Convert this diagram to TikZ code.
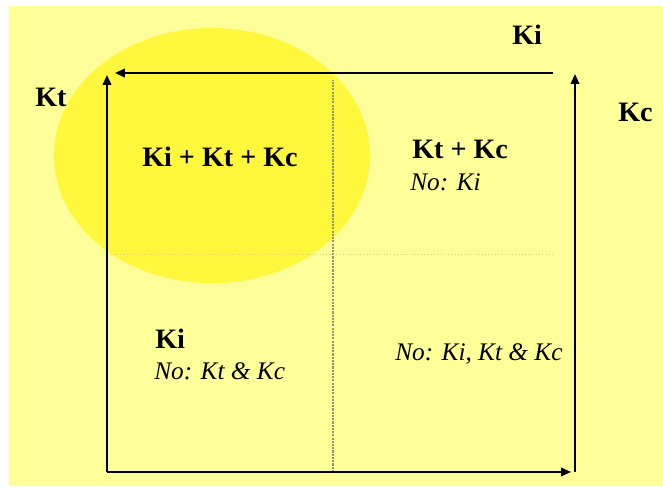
\documentclass[tikz,border=0pt]{standalone}
\usepackage{fontspec}
\setmainfont{Liberation Serif}
\usetikzlibrary{arrows.meta,positioning}

\definecolor{paleyellow}{RGB}{255,255,153}
\definecolor{sunyellow}{RGB}{255,247,60}
\definecolor{gridgray}{RGB}{150,145,110}
\definecolor{gridfaint}{RGB}{214,208,130}

\tikzset{
    axis/.style={->, line width=1.4pt},
    keylabel/.style={font=\fontsize{20}{24}\selectfont\bfseries, inner sep=0pt, anchor=base west},
    nolabel/.style={font=\fontsize{18}{22}\selectfont\itshape, inner sep=0pt, anchor=base west},
}

\begin{document}
\begin{tikzpicture}[>={Triangle[length=7pt,width=6pt]}]
    % Page and background
    \useasboundingbox (-2.675,-0.35) rectangle (13.9,11.8);
    \fill[white] (-2.675,-0.35) rectangle (13.9,11.8);
    \fill[paleyellow] (-2.45,-0.35) rectangle (13.9,11.65);

    % Region where all three hold
    \fill[sunyellow] (2.625,7.91) ellipse (3.95 and 3.19);

    % Corners of the axes
    \coordinate (O) at (0,0);
    \coordinate (ktTip) at (0,9.925);
    \coordinate (kiStart) at (11.15,9.975);
    \coordinate (kiTip) at (0.2,9.975);
    \coordinate (kcFoot) at (11.7,0);
    \coordinate (kcTip) at (11.7,9.95);
    \coordinate (xTip) at (11.6,0);

    % Dividing lines
    \draw[gridgray, line width=0.8pt, dash pattern=on 1.5pt off 0.8pt] (5.65,0) -- (5.65,9.8);
    \draw[gridfaint, line width=0.4pt, dotted] (0,5.45) -- (11.15,5.45);

    % Axes
    \draw[axis] (O) -- (ktTip);
    \draw[axis] (kiStart) -- (kiTip);
    \draw[axis] (kcFoot) -- (kcTip);
    \draw[axis] (O) -- (xTip);

    % Axis labels
    \node[keylabel] (kt) at (-1.8,9.125) {Kt};
    \node[keylabel] (ki) at (10.125,10.675) {Ki};
    \node[keylabel] (kc) at (12.775,8.75) {Kc};

    % Regions
    \node[keylabel] (all) at (0.875,7.625) {Ki + Kt + Kc};
    \node[keylabel] (ktkc) at (7.625,7.825) {Kt + Kc};
    \node[nolabel] (noki) at (7.575,7.025) {No: Ki};
    \node[keylabel] (kionly) at (1.2,3.1) {Ki};
    \node[nolabel] (noktkc) at (1.175,2.325) {No: Kt \& Kc};
    \node[nolabel] (none) at (7.2,2.8) {No: Ki, Kt \& Kc};
\end{tikzpicture}
\end{document}
